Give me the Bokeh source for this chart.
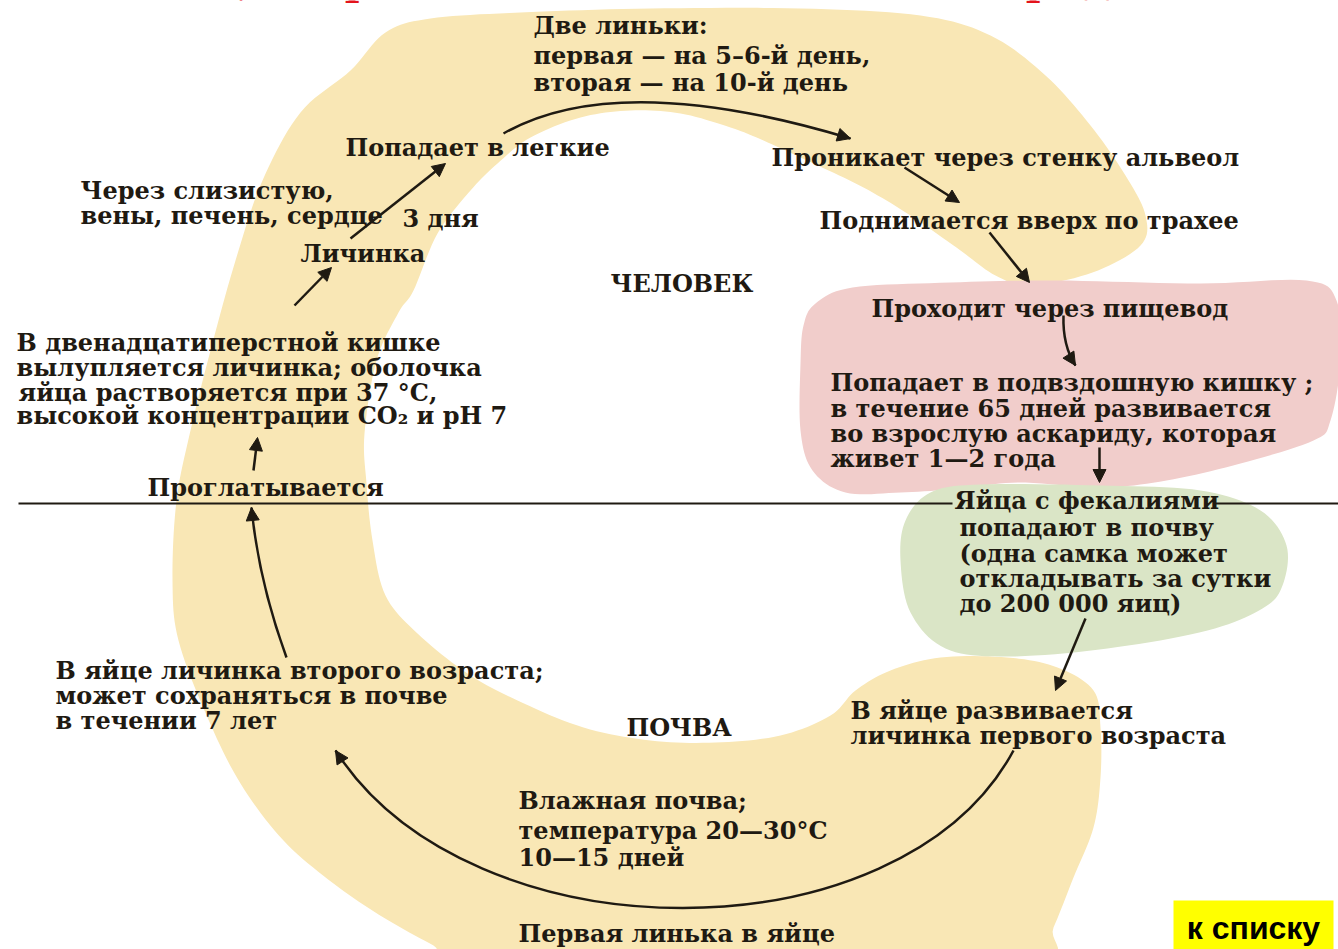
from bokeh.plotting import figure
from bokeh.models import Range1d, Arrow, NormalHead, ColumnDataSource
from bokeh.core.properties import value
from bokeh.embed import file_html
from bokeh.resources import INLINE
import numpy as np

# ---------------- data (diagram content) ----------------
TITLE = "Цикл развития человеческой аскариды"

LABELS = [
    "Две линьки:", "первая — на 5–6-й день,", "вторая — на 10-й день",
    "Попадает  в легкие", "Проникает через стенку альвеол",
    "Через слизистую,", "вены, печень, сердце", "3 дня", "Личинка",
    "Поднимается вверх по трахее", "ЧЕЛОВЕК", "Проходит через пищевод",
    "В двенадцатиперстной кишке", "вылупляется личинка; оболочка",
    "яйца  растворяется при 37 °С,", "высокой концентрации СО₂ и рН 7",
    "Попадает в  подвздошную кишку ;", "в течение 65 дней развивается",
    "во взрослую аскариду, которая", "живет 1—2 года",
    "Проглатывается",
    "Яйца с фекалиями", "попадают в почву", "(одна самка может",
    "откладывать за сутки", "до 200 000 яиц)",
    "В яйце личинка второго возраста;", "может  сохраняться в почве", "в течении 7 лет",
    "ПОЧВА", "В яйце развивается", "личинка первого возраста",
    "Влажная почва;", "температура 20—30°С", "10—15 дней",
    "Первая линька в яйце",
]
LABEL_X = [533, 533, 533, 345, 771, 80, 80, 402, 300, 819, 610, 871,
           16, 16, 18, 16, 830, 830, 830, 830, 147,
           954, 959, 959, 959, 959, 55, 55, 55, 626, 850, 850,
           518, 518, 518, 518]
LABEL_Y = [25, 55, 82, 147, 157, 190, 215, 218, 253, 220, 283, 308,
           342, 367, 392, 415, 382, 408, 433, 458, 487,
           500, 527, 553, 578, 603, 670, 695, 720, 727, 710, 735,
           800, 830, 857, 933]

# straight arrows: x0, y0, x1, y1
ARROW_X0 = [253, 294, 350, 904, 989, 1099, 1085]
ARROW_Y0 = [470, 305, 238, 167, 232, 447, 618]
ARROW_X1 = [257, 331, 445, 959, 1029, 1099, 1055]
ARROW_Y1 = [437, 267, 163, 202, 282, 482, 690]

# curved arrows (quadratic): start, control, end
QUAD_X0 = [503, 286, 1063]
QUAD_Y0 = [133, 657, 315]
QUAD_CX = [617, 258, 1062]
QUAD_CY = [68, 580, 345]
QUAD_X1 = [850, 251, 1075]
QUAD_Y1 = [138, 507, 365]

# big soil arc (cubic)
CUB = dict(x0=1013, y0=750, cx0=900, cy0=960, cx1=470, cy1=960, x1=335, y1=750)

# horizontal border between human and soil
HLINE_X0 = [18, 1214]
HLINE_X1 = [952, 1338]
HLINE_Y = 503

# background regions (outline points)
YELLOW = [(1030, 285), (1092, 272), (1140, 245), (1145, 215), (1125, 175), (1090, 125),
          (1045, 75), (990, 35), (920, 15), (800, 8), (650, 8), (520, 12), (430, 18),
          (385, 32), (350, 70), (300, 112), (262, 180), (235, 260), (210, 350),
          (190, 430), (176, 500), (172, 580), (178, 640), (207, 717), (240, 783),
          (283, 840), (333, 883), (383, 917), (433, 945), (470, 965), (800, 968),
          (1035, 962), (1053, 927), (1073, 877), (1093, 827), (1100, 777), (1100, 727),
          (1093, 690), (1057, 667), (1007, 657), (940, 657), (890, 670), (855, 690),
          (830, 715), (780, 735), (715, 742), (650, 740), (583, 727), (517, 700),
          (467, 673), (417, 633), (385, 595), (372, 540), (366, 483), (364, 433),
          (376, 360), (398, 312), (413, 290), (437, 233), (470, 190), (497, 163),
          (530, 137), (580, 117), (630, 110), (680, 113), (730, 127), (763, 140),
          (813, 163), (863, 187), (910, 215), (960, 250), (995, 275)]
PINK = [(815, 303), (852, 287), (950, 282), (1055, 280), (1200, 283), (1306, 280),
        (1336, 300), (1340, 360), (1330, 420), (1313, 440), (1240, 463), (1166, 480),
        (1100, 487), (1018, 482), (960, 488), (900, 492), (845, 492), (812, 470),
        (800, 430), (800, 363), (803, 325)]
GREEN = [(905, 520), (930, 492), (980, 484), (1100, 485), (1200, 490), (1260, 510),
         (1286, 545), (1282, 585), (1262, 608), (1207, 630), (1107, 648), (1007, 656),
         (945, 648), (910, 612), (900, 560)]

BUTTON_TEXT = "к списку"

# ---------------- styling ----------------
YELLOW_C = "#F9E7B5"
PINK_C = "#F1CDCB"
GREEN_C = "#DAE5C6"
INK = "#1f1a12"
FONT = "DejaVu Serif"
FS = "24px"


def smooth(pts, n=10):
    P = np.array(pts, float)
    m = len(P)
    out = []
    for i in range(m):
        p0, p1, p2, p3 = P[i - 1], P[i], P[(i + 1) % m], P[(i + 2) % m]
        for t in np.linspace(0, 1, n, endpoint=False):
            t2, t3 = t * t, t * t * t
            out.append(0.5 * ((2 * p1) + (-p0 + p2) * t + (2 * p0 - 5 * p1 + 4 * p2 - p3) * t2
                              + (-p0 + 3 * p1 - 3 * p2 + p3) * t3))
    out = np.array(out)
    return out[:, 0].tolist(), out[:, 1].tolist()


W, H = 1338, 949
p = figure(width=W, height=H, x_range=Range1d(0, W), y_range=Range1d(H, 0),
           output_backend="svg", toolbar_location=None,
           x_axis_location=None, y_axis_location=None, min_border=0,
           outline_line_color=None, background_fill_color="white",
           border_fill_color="white")
p.grid.visible = False

for pts, col in ((YELLOW, YELLOW_C), (PINK, PINK_C), (GREEN, GREEN_C)):
    xs, ys = smooth(pts)
    p.patch(xs, ys, fill_color=col, line_color=None)

# title (only its lower edge is visible at the top of the page)
p.text(x=[205], y=[-20], text=[TITLE], text_font=value(FONT), text_font_style="bold",
       text_font_size="40px", text_baseline="alphabetic", text_align="left",
       text_color="#E3141C")

# horizontal border
p.segment(x0=HLINE_X0, y0=[HLINE_Y] * 2, x1=HLINE_X1, y1=[HLINE_Y] * 2,
          line_color=INK, line_width=2)

head = dict(size=13, fill_color=INK, line_color=INK, line_width=1)

# straight arrows
for x0, y0, x1, y1 in zip(ARROW_X0, ARROW_Y0, ARROW_X1, ARROW_Y1):
    p.add_layout(Arrow(end=NormalHead(**head), x_start=x0, y_start=y0, x_end=x1, y_end=y1,
                       line_color=INK, line_width=2.5))

# curved arrows
p.quadratic(x0=QUAD_X0, y0=QUAD_Y0, x1=QUAD_X1, y1=QUAD_Y1, cx=QUAD_CX, cy=QUAD_CY,
            line_color=INK, line_width=2.5)
for x0, y0, cx, cy, x1, y1 in zip(QUAD_X0, QUAD_Y0, QUAD_CX, QUAD_CY, QUAD_X1, QUAD_Y1):
    d = np.array([x1 - cx, y1 - cy], float)
    d /= np.hypot(*d)
    p.add_layout(Arrow(end=NormalHead(**head), x_start=x1 - 6 * d[0], y_start=y1 - 6 * d[1],
                       x_end=x1, y_end=y1, line_color=INK, line_width=2.5))

p.bezier(x0=[CUB["x0"]], y0=[CUB["y0"]], x1=[CUB["x1"]], y1=[CUB["y1"]],
         cx0=[CUB["cx0"]], cy0=[CUB["cy0"]], cx1=[CUB["cx1"]], cy1=[CUB["cy1"]],
         line_color=INK, line_width=2.5)
d = np.array([CUB["x1"] - CUB["cx1"], CUB["y1"] - CUB["cy1"]], float)
d /= np.hypot(*d)
p.add_layout(Arrow(end=NormalHead(**head), x_start=CUB["x1"] - 6 * d[0], y_start=CUB["y1"] - 6 * d[1],
                   x_end=CUB["x1"], y_end=CUB["y1"], line_color=INK, line_width=2.5))

# labels
src = ColumnDataSource(dict(x=LABEL_X, y=LABEL_Y, text=LABELS))
p.text(x="x", y="y", text="text", source=src, text_font=value(FONT), text_font_style="bold",
       text_font_size=FS, text_baseline="middle", text_align="left", text_color=INK)

# "к списку" button
p.quad(left=[1173], right=[1333], top=[900], bottom=[952], fill_color="#FFFF00", line_color=None)
p.text(x=[1253], y=[927], text=[BUTTON_TEXT], text_font=value("Liberation Sans"),
       text_font_style="bold", text_font_size="32px", text_baseline="middle",
       text_align="center", text_color="black")

open("out.html", "w").write(file_html(p, INLINE))
